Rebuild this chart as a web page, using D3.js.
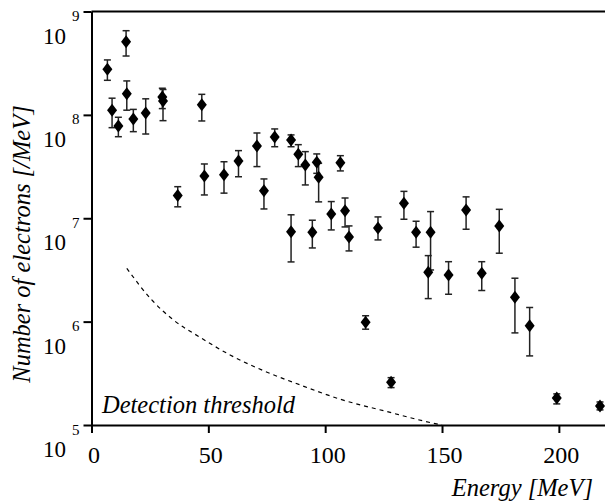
<!DOCTYPE html>
<html>
<head>
<meta charset="utf-8">
<script src="https://d3js.org/d3.v7.min.js"></script>
<style>
  body { margin: 0; background: #fff; }
</style>
</head>
<body>
<div id="chart"></div>
<script>
// data
var energy = [6.8, 8.8, 11.5, 14.8, 15.1, 17.9, 23.2, 30.3, 30.6, 47.2,
  36.9, 48.3, 56.7, 62.9, 70.8, 73.8, 78.4, 85.4, 85.4, 88.5,
  91.5, 94.5, 96.4, 97.2, 102.6, 106.5, 108.5, 110.2, 117.3, 122.6,
  128.2, 133.7, 138.9, 145.1, 144.1, 152.8, 160.3, 167.0, 174.5, 181.2,
  187.5, 199.1, 217.6];
var counts = [2.76e8, 1.11e8, 7.81e7, 5.10e8, 1.60e8, 9.12e7, 1.04e8, 1.49e8, 1.36e8, 1.25e8,
  1.66e7, 2.56e7, 2.64e7, 3.58e7, 5.00e7, 1.84e7, 6.11e7, 5.72e7, 7.42e6, 4.16e7,
  3.28e7, 7.33e6, 3.48e7, 2.49e7, 1.10e7, 3.45e7, 1.18e7, 6.59e6, 9.87e5, 8.06e6,
  2.59e5, 1.40e7, 7.32e6, 7.32e6, 3.00e6, 2.83e6, 1.20e7, 2.94e6, 8.43e6, 1.72e6,
  9.14e5, 1.82e5, 1.53e5];
var countsHigh = [3.40e8, 1.45e8, 9.48e7, 6.52e8, 2.13e8, 1.13e8, 1.43e8, 1.81e8, 1.76e8, 1.58e8,
  2.02e7, 3.35e7, 3.52e7, 4.51e7, 6.68e7, 2.40e7, 7.31e7, 6.40e7, 1.08e7, 5.15e7,
  4.41e7, 9.57e6, 4.19e7, 3.40e7, 1.45e7, 4.03e7, 1.57e7, 8.43e6, 1.14e6, 1.03e7,
  2.87e5, 1.82e7, 9.35e6, 1.16e7, 4.35e6, 3.80e6, 1.61e7, 3.80e6, 1.22e7, 2.63e6,
  1.37e6, 2.00e5, 1.67e5];
var countsLow = [2.16e8, 7.52e7, 6.15e7, 3.71e8, 1.11e8, 6.88e7, 6.53e7, 1.15e8, 8.79e7, 8.73e7,
  1.29e7, 1.68e7, 1.75e7, 2.52e7, 3.16e7, 1.23e7, 4.92e7, 4.92e7, 3.78e6, 3.16e7,
  2.10e7, 5.16e6, 2.72e7, 1.44e7, 7.71e6, 2.87e7, 8.24e6, 4.83e6, 8.45e5, 6.17e6,
  2.30e5, 9.78e6, 5.25e6, 3.16e6, 1.67e6, 1.84e6, 7.83e6, 2.00e6, 4.59e6, 7.78e5,
  4.66e5, 1.60e5, 1.40e5];

// detection threshold curve
var thrEnergy = [15.1, 25.8, 35.0, 46.4, 59.3, 73.5, 89.3, 106.3, 126.3, 146.3, 150];
var thrCounts = [3.28e6, 1.62e6, 1.04e6, 7.06e5, 4.76e5, 3.36e5, 2.44e5, 1.78e5, 1.35e5, 1.04e5, 1.0e5];

var xTicks = [0, 50, 100, 150, 200];
var yExponents = [5, 6, 7, 8, 9];

var serif = "'Liberation Serif', 'Times New Roman', Times, 'DejaVu Serif', serif";

var svgWidth = 605;
var svgHeight = 504;

var svg = d3.select("#chart")
  .append("svg")
  .attr("width", svgWidth)
  .attr("height", svgHeight)
  .style("font-family", serif);

var x = d3.scaleLinear().domain([0, 220]).range([91.5, 605.6]);
var y = d3.scaleLog().domain([1e5, 1e9]).range([425, 11.5]);

var points = energy.map(function (e, i) {
  return { e: e, v: counts[i], hi: countsHigh[i], lo: countsLow[i] };
});

// top border
svg.append("line")
  .attr("x1", x(0)).attr("x2", 605)
  .attr("y1", y(1e9)).attr("y2", y(1e9))
  .attr("stroke", "#000")
  .attr("stroke-width", 2);

// x axis
var xAxis = svg.append("g")
  .attr("transform", "translate(0," + y(1e5) + ")")
  .call(d3.axisBottom(x).tickValues(xTicks).tickSize(8).tickSizeOuter(0).tickPadding(13));
xAxis.select(".domain").attr("stroke-width", 2);
xAxis.selectAll(".tick line").attr("stroke-width", 2);
xAxis.selectAll(".tick text")
  .style("font-family", serif)
  .attr("font-size", "24px")
  .attr("fill", "#000")
  .attr("dx", 2);

// y axis
var yAxis = svg.append("g")
  .attr("transform", "translate(" + x(0) + ",0)")
  .call(d3.axisLeft(y).tickValues(yExponents.map(function (p) { return Math.pow(10, p); }))
    .tickSize(8).tickSizeOuter(0).tickFormat(""));
yAxis.select(".domain").attr("stroke-width", 2);
yAxis.selectAll(".tick line").attr("stroke-width", 2);

// power-of-ten labels
var yLabels = svg.append("g");
yExponents.forEach(function (p) {
  var ty = y(Math.pow(10, p));
  yLabels.append("text")
    .attr("x", 66)
    .attr("y", ty + 32)
    .attr("text-anchor", "end")
    .attr("font-size", "23px")
    .text("10");
  yLabels.append("text")
    .attr("x", 72)
    .attr("y", ty + 9.5)
    .attr("font-size", "15px")
    .text(p);
});

// threshold curve
var line = d3.line()
  .x(function (d) { return x(d[0]); })
  .y(function (d) { return y(d[1]); })
  .curve(d3.curveMonotoneX);

svg.append("path")
  .datum(thrEnergy.map(function (e, i) { return [e, thrCounts[i]]; }))
  .attr("d", line)
  .attr("fill", "none")
  .attr("stroke", "#000")
  .attr("stroke-width", 1.2)
  .attr("stroke-dasharray", "4,4");

// error bars
var bars = svg.append("g")
  .attr("stroke", "#222")
  .attr("stroke-width", 1.5);

bars.selectAll(".bar")
  .data(points)
  .enter()
  .append("line")
  .attr("x1", function (d) { return x(d.e); })
  .attr("x2", function (d) { return x(d.e); })
  .attr("y1", function (d) { return y(d.hi); })
  .attr("y2", function (d) { return y(d.lo); });

bars.selectAll(".capHi")
  .data(points)
  .enter()
  .append("line")
  .attr("x1", function (d) { return x(d.e) - 3.5; })
  .attr("x2", function (d) { return x(d.e) + 3.5; })
  .attr("y1", function (d) { return y(d.hi); })
  .attr("y2", function (d) { return y(d.hi); });

bars.selectAll(".capLo")
  .data(points)
  .enter()
  .append("line")
  .attr("x1", function (d) { return x(d.e) - 3.5; })
  .attr("x2", function (d) { return x(d.e) + 3.5; })
  .attr("y1", function (d) { return y(d.lo); })
  .attr("y2", function (d) { return y(d.lo); });

// diamonds
svg.append("g")
  .selectAll("path")
  .data(points)
  .enter()
  .append("path")
  .attr("transform", function (d) { return "translate(" + x(d.e) + "," + y(d.v) + ")"; })
  .attr("d", "M0,-6.5L5,0L0,6.5L-5,0Z")
  .attr("fill", "#000");

// texts
svg.append("text")
  .attr("x", 102)
  .attr("y", 413)
  .attr("font-size", "24.5px")
  .attr("font-style", "italic")
  .text("Detection threshold");

svg.append("text")
  .attr("x", 593)
  .attr("y", 495.5)
  .attr("text-anchor", "end")
  .attr("font-size", "24.5px")
  .attr("font-style", "italic")
  .text("Energy [MeV]");

svg.append("text")
  .attr("transform", "translate(30,244) rotate(-90)")
  .attr("text-anchor", "middle")
  .attr("font-size", "24.5px")
  .attr("font-style", "italic")
  .text("Number of electrons [/MeV]");
</script>
</body>
</html>
